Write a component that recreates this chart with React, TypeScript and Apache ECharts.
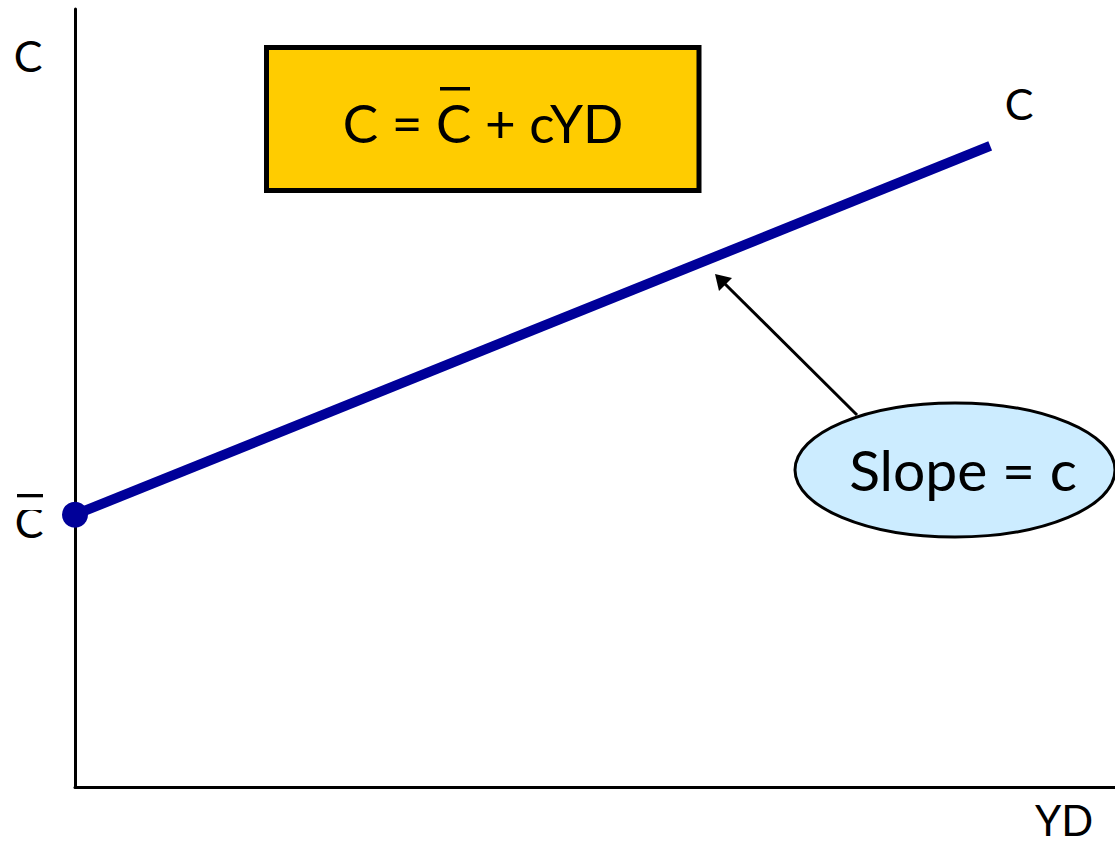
import React, { useEffect, useRef } from "react";
import * as echarts from "echarts";

// Data (arbitrary units, 0-100 on both axes)
const disposableIncome = [0, 88];
const consumption = [35, 82.4];
const autonomousConsumption = [[0, 35]];
const equationText = "C = C\u0304 + cYD";
const slopeText = "Slope = c";
const yAxisName = "C";
const xAxisName = "YD";
const lineLabel = "C";
const interceptLabel = "C\u0304";

const FONT = "Lato, 'Noto Sans', sans-serif";
const NAVY = "#000099";

export default function App() {
  const ref = useRef<HTMLDivElement>(null);
  useEffect(() => {
    document.body.style.margin = "0";
    const chart = echarts.init(ref.current!, null, { renderer: "svg" });
    const axisCommon = {
      type: "value",
      min: 0,
      max: 100,
      axisLine: { show: true, onZero: false, lineStyle: { color: "#000", width: 3 } },
      axisTick: { show: false },
      axisLabel: { show: false },
      splitLine: { show: false },
    };
    const label = (text: string, x: number, y: number, size = 43) => ({
      type: "text",
      x,
      y,
      style: {
        text,
        fontFamily: FONT,
        fontSize: size,
        lineHeight: 34,
        fill: "#000",
        align: "center",
        verticalAlign: "middle",
      },
      z: 5,
    });
    chart.setOption({
      animation: false,
      backgroundColor: "#fff",
      textStyle: { fontFamily: FONT },
      grid: { left: 75, top: 9, width: 1040, height: 778 },
      xAxis: axisCommon,
      yAxis: axisCommon,
      series: [
        {
          type: "line",
          data: disposableIncome.map((x, i) => [x, consumption[i]]),
          symbol: "none",
          clip: false,
          lineStyle: { color: NAVY, width: 10, cap: "butt" },
          z: 3,
        },
        {
          type: "scatter",
          data: autonomousConsumption,
          symbolSize: 26,
          clip: false,
          itemStyle: { color: NAVY, opacity: 1 },
          z: 4,
        },
      ],
      graphic: [
        {
          type: "rect",
          shape: { x: 266.5, y: 47.5, width: 432.5, height: 143 },
          style: { fill: "#FFCC00", stroke: "#000", lineWidth: 5 },
          z: 10,
        },
        {
          type: "text",
          x: 483,
          y: 122,
          style: {
            text: equationText,
            fontFamily: FONT,
            fontSize: 53,
            fill: "#000",
            align: "center",
            verticalAlign: "middle",
          },
          z: 11,
        },
        // widen and raise the overbar of C in the equation
        {
          type: "rect",
          shape: { x: 444, y: 84, width: 24, height: 19.5 },
          style: { fill: "#FFCC00" },
          z: 12,
        },
        {
          type: "rect",
          shape: { x: 440, y: 87, width: 30, height: 3.5 },
          style: { fill: "#000" },
          z: 13,
        },
        {
          type: "ellipse",
          shape: { cx: 955, cy: 470, rx: 160, ry: 67 },
          style: { fill: "#CCECFF", stroke: "#000", lineWidth: 3 },
          z: 10,
        },
        {
          type: "text",
          x: 963,
          y: 469,
          style: {
            text: slopeText,
            fontFamily: FONT,
            fontSize: 57,
            fill: "#000",
            align: "center",
            verticalAlign: "middle",
          },
          z: 11,
        },
        {
          type: "line",
          shape: { x1: 857, y1: 415, x2: 722, y2: 281 },
          style: { stroke: "#000", lineWidth: 3 },
          z: 9,
        },
        {
          type: "polygon",
          shape: { points: [[715, 274], [719, 291], [732, 278]] },
          style: { fill: "#000" },
          z: 9,
        },
        label(yAxisName, 28, 55),
        label(xAxisName, 1064, 820, 42),
        label(lineLabel, 1019, 103),
        label(interceptLabel, 29, 521),
        // widen and raise the overbar of the intercept label
        {
          type: "rect",
          shape: { x: 16, y: 498, width: 28, height: 12 },
          style: { fill: "#fff" },
          z: 6,
        },
        {
          type: "rect",
          shape: { x: 17, y: 494, width: 26, height: 3.3 },
          style: { fill: "#000" },
          z: 7,
        },
      ],
    });
    return () => chart.dispose();
  }, []);
  return (
    <div
      ref={ref}
      style={{ position: "absolute", left: 0, top: 0, width: 1115, height: 846 }}
    />
  );
}
